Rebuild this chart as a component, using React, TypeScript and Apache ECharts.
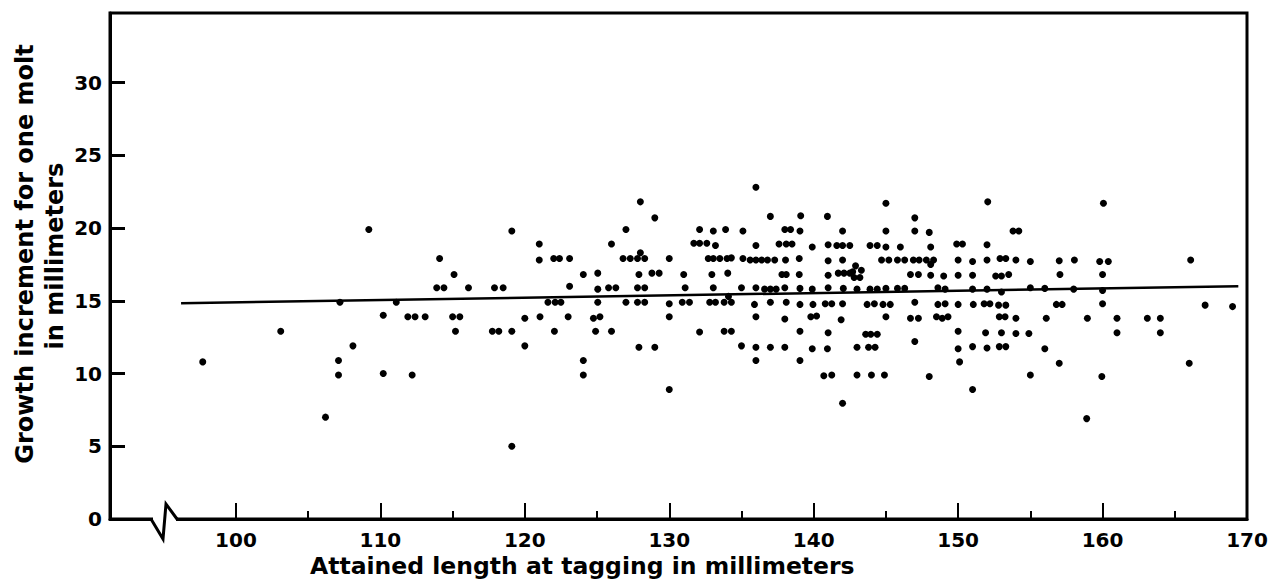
import React, { useEffect, useRef } from "react";
import * as echarts from "echarts";

// Attained length at tagging (mm) vs growth increment for one molt (mm)
const pointsTo117: number[][] = [
  [97.7, 10.8], [103.1, 12.9], [109.2, 19.9], [114.1, 17.9], [115.1, 16.8], [113.9, 15.9], [114.4, 15.9],
  [116.1, 15.9], [107.2, 14.9], [111.1, 14.9], [110.2, 14.0], [111.9, 13.9], [112.4, 13.9], [113.1, 13.9],
  [115.0, 13.9], [115.5, 13.9], [115.2, 12.9], [108.1, 11.9], [107.1, 10.9], [107.1, 9.9], [110.2, 10.0],
  [112.2, 9.9], [106.2, 7.0],
];

const points117to129: number[][] = [
  [128.0, 21.8], [119.1, 19.8], [127.0, 19.9], [121.0, 18.9], [126.0, 18.9], [121.0, 17.8], [122.0, 17.9],
  [122.4, 17.9], [123.1, 17.9], [126.8, 17.9], [127.3, 17.9], [127.8, 17.9], [128.3, 17.9], [128.0, 18.3],
  [124.05, 16.8], [125.05, 16.9], [127.9, 16.8], [117.9, 15.9], [118.5, 15.9], [123.1, 16.0], [125.05, 15.8],
  [125.8, 15.9], [126.3, 15.9], [127.8, 15.9], [128.3, 15.9], [121.6, 14.9], [122.1, 14.9], [122.5, 14.9],
  [125.05, 14.9], [127.0, 14.9], [127.8, 14.9], [128.3, 14.9], [120.0, 13.8], [121.05, 13.9], [123.0, 13.9],
  [124.75, 13.8], [125.2, 13.9], [117.75, 12.9], [118.2, 12.9], [119.1, 12.9], [122.05, 12.9], [124.9, 12.9],
  [126.0, 12.9], [120.0, 11.9], [127.9, 11.8], [124.05, 10.9], [124.05, 9.9], [119.1, 5.0],
];

const points129to139: number[][] = [
  [136.0, 22.8], [129.0, 20.7], [137.0, 20.8], [132.1, 19.9], [133.05, 19.8], [133.9, 19.9], [135.1, 19.8],
  [138.0, 19.9], [138.4, 19.9], [131.7, 18.95], [132.1, 18.95], [132.6, 18.95], [133.2, 18.8], [136.0, 18.8],
  [137.6, 18.9], [138.1, 18.9], [138.5, 18.9], [130.0, 17.9], [132.7, 17.9], [133.05, 17.9], [133.5, 17.9],
  [134.0, 17.9], [134.3, 17.95], [135.1, 17.9], [135.6, 17.8], [136.0, 17.8], [136.4, 17.8], [136.8, 17.8],
  [137.3, 17.8], [138.05, 17.8], [128.8, 16.9], [129.3, 16.9], [131.0, 16.8], [132.95, 16.8], [134.05, 16.9],
  [137.8, 16.8], [138.1, 16.8], [131.1, 15.9], [133.05, 15.9], [135.0, 15.9], [136.0, 15.9], [136.6, 15.8],
  [137.0, 15.8], [137.4, 15.8], [138.0, 15.9], [130.0, 14.8], [130.9, 14.9], [131.4, 14.9], [132.8, 14.9],
  [133.2, 14.9], [133.8, 14.9], [134.3, 14.9], [134.1, 15.3], [135.9, 14.75], [137.0, 14.9], [138.1, 14.9],
  [130.0, 13.9], [136.0, 13.9], [138.0, 13.75], [132.1, 12.85], [133.8, 12.9], [134.3, 12.9], [129.0, 11.8],
  [135.0, 11.9], [136.0, 11.8], [137.0, 11.8], [138.0, 11.8], [136.0, 10.9], [130.0, 8.9],
];

const points139to149: number[][] = [
  [145.0, 21.7], [139.1, 20.85], [140.95, 20.8], [147.0, 20.7], [139.05, 19.8], [142.0, 19.8], [145.0, 19.8],
  [147.0, 19.8], [148.0, 19.7], [139.9, 18.7], [141.0, 18.85], [141.6, 18.8], [142.0, 18.8], [142.5, 18.8],
  [143.9, 18.8], [144.4, 18.8], [145.0, 18.7], [146.0, 18.7], [148.1, 18.7], [139.0, 17.9], [141.0, 17.75],
  [142.0, 17.8], [144.7, 17.8], [145.2, 17.8], [145.8, 17.8], [146.3, 17.8], [146.9, 17.8], [147.3, 17.8],
  [147.8, 17.8], [148.3, 17.8], [148.1, 17.5], [142.9, 17.4], [143.3, 17.1], [142.7, 17.0], [142.8, 16.6],
  [143.2, 16.6], [139.0, 16.8], [141.0, 16.75], [141.7, 16.9], [142.1, 16.9], [142.5, 16.9], [146.7, 16.8],
  [147.25, 16.8], [148.1, 16.75], [139.05, 15.85], [139.9, 15.8], [141.0, 15.9], [142.05, 15.85], [143.0, 15.8],
  [143.9, 15.8], [144.4, 15.8], [145.0, 15.85], [145.8, 15.85], [146.3, 15.85], [148.6, 15.9], [149.1, 15.8],
  [139.05, 14.75], [139.95, 14.75], [140.8, 14.8], [141.25, 14.8], [142.0, 14.8], [143.7, 14.75], [144.2, 14.8],
  [144.8, 14.75], [145.3, 14.75], [147.0, 14.9], [148.6, 14.75], [149.1, 14.8], [139.8, 13.9], [140.2, 13.95],
  [141.9, 13.7], [145.0, 13.9], [146.7, 13.8], [147.25, 13.8], [148.5, 13.9], [148.9, 13.8], [149.3, 13.9],
  [139.05, 12.9], [141.0, 12.8], [143.6, 12.7], [143.95, 12.7], [144.4, 12.7], [147.0, 12.2], [139.9, 11.7],
  [140.95, 11.7], [143.0, 11.8], [143.8, 11.8], [144.25, 11.8], [139.05, 10.9], [140.7, 9.85], [141.25, 9.9],
  [143.0, 9.9], [144.0, 9.9], [144.9, 9.9], [148.0, 9.8], [142.0, 7.95],
];

const points149to170: number[][] = [
  [152.05, 21.8], [153.8, 19.8], [154.2, 19.8], [149.9, 18.9], [150.3, 18.9], [152.0, 18.85], [150.0, 17.8],
  [151.0, 17.7], [152.0, 17.8], [152.9, 17.9], [153.3, 17.9], [154.0, 17.8], [155.0, 17.7], [157.0, 17.75],
  [158.05, 17.8], [149.0, 16.7], [150.0, 16.75], [151.0, 16.75], [152.6, 16.7], [153.0, 16.7], [153.5, 16.8],
  [157.05, 16.8], [151.0, 15.8], [152.0, 15.8], [153.0, 15.6], [155.0, 15.9], [156.0, 15.85], [158.0, 15.8],
  [150.0, 14.75], [151.05, 14.75], [151.8, 14.8], [152.2, 14.8], [152.8, 14.7], [153.3, 14.7], [156.8, 14.75],
  [157.2, 14.75], [152.85, 13.9], [153.25, 13.9], [154.0, 13.8], [156.1, 13.8], [158.95, 13.8], [150.0, 12.9],
  [151.9, 12.8], [153.0, 12.8], [154.0, 12.75], [154.9, 12.75], [150.0, 11.7], [151.0, 11.85], [152.0, 11.75],
  [152.85, 11.85], [153.3, 11.85], [156.0, 11.7], [150.1, 10.8], [157.0, 10.7], [155.0, 9.9], [151.0, 8.9],
  [158.9, 6.9], [160.06, 21.7], [159.8, 17.7], [160.4, 17.7], [166.1, 17.8], [160.0, 16.8], [160.0, 15.7],
  [160.0, 14.8], [167.1, 14.7], [169.0, 14.6], [161.0, 13.8], [163.1, 13.8], [164.0, 13.8], [161.0, 12.8],
  [164.0, 12.8], [166.0, 10.7], [159.95, 9.8],
];

const regressionLine: number[][] = [[96.2, 14.83], [169.4, 16.0]];

const xTickLabels = [100, 110, 120, 130, 140, 150, 160, 170];
const xMinorTicks = [105, 115, 125, 135, 145, 155, 165];
const yTickLabels = [0, 5, 10, 15, 20, 25, 30];
const yTicks = [5, 10, 15, 20, 25, 30];

const xTitle = "Attained length at tagging in millimeters";
const yTitleLine1 = "Growth increment for one molt";
const yTitleLine2 = "in millimeters";

const FONT = "'DejaVu Sans', sans-serif";

export default function App() {
  const ref = useRef<HTMLDivElement>(null);

  useEffect(() => {
    document.body.style.margin = "0";
    if (!ref.current) return;
    const chart = echarts.init(ref.current, null, { renderer: "svg" });

    const gridLeft = 110;
    const gridRight = 26;
    const gridTop = 13;
    const gridBottom = 62;
    const xMin = 91.28;
    const xMax = 170;
    const yMin = 0;
    const yMax = 34.78;

    const allPoints = [
      ...pointsTo117,
      ...points117to129,
      ...points129to139,
      ...points139to149,
      ...points149to170,
    ];

    const labelStyle = {
      color: "#000",
      fontSize: 20,
      fontWeight: "bold" as const,
      fontFamily: FONT,
    };

    chart.setOption({
      animation: false,
      backgroundColor: "#fff",
      grid: {
        left: gridLeft,
        right: gridRight,
        top: gridTop,
        bottom: gridBottom,
        show: true,
        borderColor: "#000",
        borderWidth: 3,
        containLabel: false,
      },
      xAxis: [
        {
          type: "value",
          min: xMin,
          max: xMax,
          splitLine: { show: false },
          axisLine: { show: true, lineStyle: { color: "#000", width: 3 } },
          axisTick: {
            show: true,
            inside: true,
            length: 16,
            customValues: xTickLabels,
            lineStyle: { color: "#000", width: 2 },
          },
          axisLabel: { ...labelStyle, margin: 11, customValues: xTickLabels },
        },
        {
          type: "value",
          min: xMin,
          max: xMax,
          position: "bottom",
          splitLine: { show: false },
          axisLine: { show: false },
          axisTick: {
            show: true,
            inside: true,
            length: 8,
            customValues: xMinorTicks,
            lineStyle: { color: "#000", width: 2 },
          },
          axisLabel: { show: false },
        },
      ],
      yAxis: {
        type: "value",
        min: yMin,
        max: yMax,
        splitLine: { show: false },
        axisLine: { show: true, lineStyle: { color: "#000", width: 3 } },
        axisTick: {
          show: true,
          inside: true,
          length: 15,
          customValues: yTicks,
          lineStyle: { color: "#000", width: 3 },
        },
        axisLabel: { ...labelStyle, margin: 8, customValues: yTickLabels },
      },
      series: [
        {
          type: "scatter",
          xAxisIndex: 0,
          data: allPoints,
          symbol: "circle",
          symbolSize: 7,
          itemStyle: { color: "#000", opacity: 1 },
          z: 3,
        },
        {
          type: "line",
          xAxisIndex: 0,
          data: regressionLine,
          symbol: "none",
          lineStyle: { color: "#000", width: 2.5 },
          z: 2,
        },
      ],
    });

    // Axis break on the x axis and the axis titles
    const origin = chart.convertToPixel({ gridIndex: 0 }, [xMin, 0]) as number[];
    const ay = origin[1];
    const ax = origin[0];
    chart.setOption({
      graphic: [
        {
          type: "rect",
          shape: { x: ax + 43, y: ay - 4, width: 23, height: 8 },
          style: { fill: "#fff" },
          z: 100,
        },
        {
          type: "polyline",
          shape: {
            points: [
              [ax + 41, ay],
              [ax + 53, ay + 20],
              [ax + 56, ay - 15],
              [ax + 67, ay],
            ],
          },
          style: { stroke: "#000", lineWidth: 3, fill: null, lineJoin: "miter" },
          z: 101,
        },
        {
          type: "text",
          x: 310,
          y: 566,
          style: {
            text: xTitle,
            fill: "#000",
            font: `bold 23.5px ${FONT}`,
            textAlign: "left",
            textVerticalAlign: "middle",
          },
        },
        {
          type: "text",
          x: 25,
          y: 254,
          rotation: Math.PI / 2,
          style: {
            text: yTitleLine1,
            fill: "#000",
            font: `bold 24px ${FONT}`,
            textAlign: "center",
            textVerticalAlign: "middle",
          },
        },
        {
          type: "text",
          x: 55,
          y: 256,
          rotation: Math.PI / 2,
          style: {
            text: yTitleLine2,
            fill: "#000",
            font: `bold 24px ${FONT}`,
            textAlign: "center",
            textVerticalAlign: "middle",
          },
        },
      ],
    });

    return () => chart.dispose();
  }, []);

  return <div ref={ref} style={{ width: 1273, height: 581 }} />;
}
